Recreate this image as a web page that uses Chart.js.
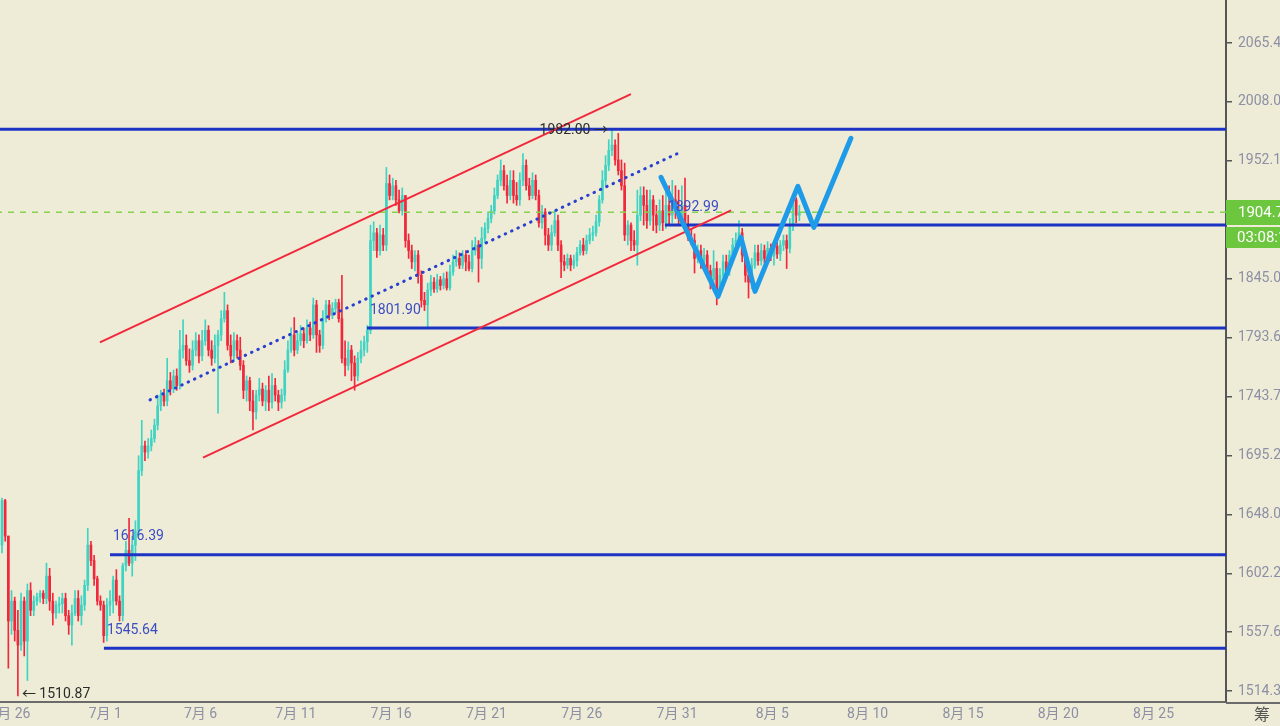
<!DOCTYPE html>
<html>
<head>
<meta charset="utf-8">
<title>K线</title>
<script src="https://cdn.jsdelivr.net/npm/chart.js@4.4.1/dist/chart.umd.min.js"></script>
<style>
  html, body { margin: 0; padding: 0; width: 1280px; height: 726px; overflow: hidden; background: #eeecd6; }
  #wrap { position: absolute; left: -40px; top: 0; width: 1320px; height: 726px; }
</style>
</head>
<body>
<div id="wrap"><canvas id="kline" width="1320" height="726"></canvas></div>
<script>
  // ---- axis ticks ----
  const xTickDays = [0, 5, 10, 15, 20, 25, 30, 35, 40, 45, 50, 55, 60];
  const xTickLabels = ["6月 26", "7月 1", "7月 6", "7月 11", "7月 16", "7月 21", "7月 26",
    "7月 31", "8月 5", "8月 10", "8月 15", "8月 20", "8月 25"];
  const yTickValues = [2065.4, 2008.0, 1952.1, 1845.0, 1793.6, 1743.7, 1695.2, 1648.0, 1602.2, 1557.6, 1514.3];
  const yTickLabels = ["2065.4", "2008.0", "1952.1", "1845.0", "1793.6", "1743.7", "1695.2", "1648.0", "1602.2", "1557.6", "1514.3"];

  // ---- 4h candles, first one on 6/25 14:00 (day 0 = 6/26) ----
  const firstCandleDay = -10 / 24;
  const candleHours = 4;

  const opens = [
    1624, 1659, 1631, 1566, 1581, 1559, 1548, 1581, 1551, 1589,
    1574, 1581, 1584, 1587, 1583, 1600, 1581, 1572, 1578, 1579,
    1583, 1570, 1563, 1572, 1583, 1570, 1578, 1593, 1624, 1612,
    1598, 1581, 1578, 1555, 1578, 1581, 1597, 1581, 1570, 1608,
    1620, 1610, 1624, 1635, 1683, 1703, 1698, 1703, 1709, 1720,
    1736, 1745, 1740, 1757, 1750, 1761, 1753, 1783, 1787, 1774,
    1770, 1783, 1791, 1778, 1791, 1800, 1783, 1776, 1787, 1796,
    1810, 1817, 1787, 1778, 1791, 1783, 1770, 1749, 1757, 1740,
    1731, 1745, 1750, 1740, 1749, 1739, 1753, 1745, 1739, 1745,
    1766, 1783, 1796, 1783, 1791, 1797, 1791, 1802, 1796, 1822,
    1796, 1787, 1810, 1822, 1813, 1819, 1824, 1810, 1776, 1770,
    1783, 1772, 1761, 1776, 1783, 1790, 1800, 1879, 1886, 1870,
    1884, 1875, 1931, 1920, 1929, 1916, 1906, 1920, 1879, 1870,
    1860, 1866, 1848, 1826, 1822, 1835, 1842, 1836, 1844, 1839,
    1845, 1837, 1851, 1860, 1863, 1857, 1866, 1860, 1854, 1870,
    1875, 1863, 1881, 1890, 1899, 1906, 1920, 1934, 1943, 1929,
    1920, 1934, 1920, 1916, 1934, 1948, 1929, 1920, 1934, 1920,
    1895, 1905, 1884, 1875, 1886, 1897, 1875, 1860, 1857, 1863,
    1857, 1861, 1868, 1875, 1870, 1879, 1884, 1886, 1896, 1916,
    1934, 1948, 1962, 1967, 1953, 1943, 1929, 1884, 1893, 1879,
    1875, 1902, 1920, 1911, 1897, 1916, 1902, 1893, 1906, 1895,
    1911, 1902, 1916, 1906, 1899, 1911, 1893, 1881, 1879, 1863,
    1870, 1860, 1866, 1852, 1844, 1854, 1835, 1848, 1860, 1852,
    1866, 1875, 1879, 1886, 1866, 1848, 1842, 1857, 1868, 1861,
    1870, 1863, 1872, 1865, 1874, 1867, 1875, 1879, 1872, 1893,
    1916, 1902
  ];
  const highs = [
    1661, 1660, 1631, 1589, 1584, 1574, 1587, 1584, 1594, 1595,
    1585, 1587, 1589, 1589, 1610, 1606, 1587, 1581, 1584, 1587,
    1587, 1574, 1578, 1589, 1589, 1585, 1597, 1637, 1627, 1616,
    1600, 1585, 1581, 1583, 1589, 1600, 1605, 1585, 1610, 1627,
    1645, 1631, 1643, 1695, 1724, 1707, 1709, 1716, 1725, 1745,
    1749, 1750, 1776, 1764, 1766, 1767, 1800, 1809, 1796, 1784,
    1791, 1798, 1796, 1800, 1809, 1804, 1791, 1796, 1800, 1817,
    1833, 1822, 1796, 1798, 1796, 1794, 1774, 1761, 1760, 1749,
    1749, 1759, 1755, 1753, 1761, 1763, 1759, 1749, 1750, 1774,
    1791, 1802, 1811, 1798, 1804, 1802, 1809, 1807, 1828, 1826,
    1800, 1817, 1826, 1826, 1824, 1827, 1827, 1848, 1791, 1790,
    1787, 1778, 1781, 1791, 1795, 1804, 1893, 1896, 1890, 1893,
    1890, 1946, 1939, 1936, 1934, 1925, 1927, 1920, 1885, 1875,
    1870, 1870, 1852, 1833, 1841, 1848, 1846, 1849, 1847, 1850,
    1851, 1857, 1866, 1870, 1868, 1870, 1870, 1866, 1879, 1882,
    1879, 1891, 1895, 1905, 1911, 1927, 1939, 1953, 1948, 1939,
    1943, 1943, 1932, 1941, 1959, 1953, 1936, 1941, 1939, 1925,
    1911, 1908, 1890, 1893, 1906, 1902, 1879, 1866, 1867, 1866,
    1866, 1873, 1879, 1881, 1884, 1890, 1892, 1902, 1920, 1943,
    1957, 1972, 1982, 1972, 1978, 1953, 1950, 1897, 1895, 1888,
    1925, 1928, 1928, 1925, 1925, 1920, 1911, 1916, 1920, 1929,
    1929, 1934, 1929, 1925, 1929, 1936, 1902, 1890, 1885, 1875,
    1875, 1872, 1870, 1857, 1870, 1860, 1854, 1866, 1866, 1870,
    1881, 1886, 1897, 1890, 1870, 1854, 1863, 1875, 1875, 1876,
    1875, 1878, 1876, 1879, 1878, 1879, 1884, 1884, 1899, 1920,
    1918, 1911
  ];
  const lows = [
    1618, 1627, 1531, 1556, 1551, 1510.87, 1544, 1540, 1522, 1570,
    1570, 1578, 1580, 1579, 1579, 1574, 1563, 1568, 1572, 1572,
    1566, 1556, 1548, 1570, 1566, 1563, 1574, 1589, 1608, 1593,
    1578, 1574, 1550, 1551, 1570, 1572, 1578, 1566, 1566, 1604,
    1608, 1600, 1612, 1631, 1679, 1691, 1693, 1699, 1706, 1716,
    1732, 1736, 1736, 1745, 1747, 1749, 1750, 1776, 1770, 1764,
    1766, 1778, 1772, 1774, 1787, 1778, 1770, 1772, 1730, 1791,
    1807, 1783, 1772, 1774, 1776, 1766, 1742, 1740, 1732, 1716,
    1725, 1740, 1736, 1732, 1732, 1734, 1740, 1732, 1734, 1740,
    1764, 1781, 1778, 1780, 1787, 1785, 1789, 1791, 1793, 1781,
    1781, 1784, 1807, 1809, 1810, 1815, 1807, 1772, 1761, 1766,
    1757, 1749, 1757, 1772, 1778, 1781, 1797, 1870, 1864, 1866,
    1870, 1870, 1916, 1916, 1911, 1904, 1902, 1873, 1863, 1854,
    1852, 1841, 1820, 1817, 1801.90, 1830, 1833, 1833, 1835, 1836,
    1835, 1835, 1848, 1856, 1854, 1854, 1852, 1852, 1851, 1866,
    1842, 1854, 1877, 1886, 1895, 1903, 1917, 1929, 1925, 1913,
    1916, 1913, 1911, 1911, 1929, 1925, 1916, 1917, 1916, 1891,
    1890, 1875, 1870, 1870, 1883, 1870, 1846, 1852, 1854, 1852,
    1854, 1856, 1866, 1866, 1867, 1876, 1879, 1883, 1892, 1913,
    1929, 1943, 1957, 1948, 1939, 1925, 1879, 1875, 1870, 1870,
    1857, 1897, 1893, 1890, 1893, 1888, 1886, 1888, 1888, 1890,
    1893, 1895, 1899, 1893, 1895, 1888, 1879, 1875, 1850, 1859,
    1854, 1852, 1848, 1836, 1839, 1822, 1830, 1844, 1848, 1848,
    1861, 1870, 1875, 1860, 1842, 1828, 1836, 1854, 1857, 1857,
    1859, 1859, 1861, 1857, 1863, 1861, 1870, 1854, 1868, 1888,
    1895, 1897
  ];
  const closes = [
    1659, 1631, 1566, 1581, 1559, 1548, 1581, 1551, 1589, 1574,
    1581, 1584, 1587, 1583, 1600, 1581, 1572, 1578, 1579, 1583,
    1570, 1563, 1572, 1583, 1570, 1578, 1593, 1624, 1612, 1598,
    1581, 1578, 1555, 1578, 1581, 1597, 1581, 1570, 1608, 1620,
    1610, 1624, 1635, 1683, 1703, 1698, 1703, 1709, 1720, 1736,
    1745, 1740, 1757, 1750, 1761, 1753, 1783, 1787, 1774, 1770,
    1783, 1791, 1778, 1791, 1800, 1783, 1776, 1787, 1796, 1810,
    1817, 1787, 1778, 1791, 1783, 1770, 1749, 1757, 1740, 1731,
    1745, 1750, 1740, 1749, 1739, 1753, 1745, 1739, 1745, 1766,
    1783, 1796, 1783, 1791, 1797, 1791, 1802, 1796, 1822, 1796,
    1787, 1810, 1822, 1813, 1819, 1824, 1810, 1776, 1770, 1783,
    1772, 1761, 1776, 1783, 1790, 1800, 1879, 1886, 1870, 1884,
    1875, 1931, 1920, 1929, 1916, 1906, 1920, 1879, 1870, 1860,
    1866, 1848, 1826, 1822, 1835, 1842, 1836, 1844, 1839, 1845,
    1837, 1851, 1860, 1863, 1857, 1866, 1860, 1854, 1870, 1875,
    1863, 1881, 1890, 1899, 1906, 1920, 1934, 1943, 1929, 1920,
    1934, 1920, 1916, 1934, 1948, 1929, 1920, 1934, 1920, 1895,
    1905, 1884, 1875, 1886, 1897, 1875, 1860, 1857, 1863, 1857,
    1861, 1868, 1875, 1870, 1879, 1884, 1886, 1896, 1916, 1934,
    1948, 1962, 1967, 1953, 1943, 1929, 1884, 1893, 1879, 1875,
    1902, 1920, 1911, 1897, 1916, 1902, 1893, 1906, 1895, 1911,
    1902, 1916, 1906, 1899, 1911, 1893, 1881, 1879, 1863, 1870,
    1860, 1866, 1852, 1844, 1854, 1835, 1848, 1860, 1852, 1866,
    1875, 1879, 1886, 1866, 1848, 1842, 1857, 1868, 1861, 1870,
    1863, 1872, 1865, 1874, 1867, 1875, 1879, 1872, 1893, 1916,
    1902, 1904.7
  ];

  // ---- drawn levels / trend lines (day, price) ----
  const levelPrices = [1982.00, 1892.99, 1801.90, 1616.39, 1545.64];
  const levelFromDays = [-3, 34.36, 18.73, 5.25, 4.93];
  const levelTexts = [null, "1892.99", "1801.90", "1616.39", "1545.64"];

  const channelUpperDays = [4.72, 32.58];
  const channelUpperPrices = [1789.5, 2015.5];
  const channelLowerDays = [10.13, 37.83];
  const channelLowerPrices = [1693.5, 1906.4];
  const midlineDays = [7.35, 35.20];
  const midlinePrices = [1741.0, 1960.5];

  const forecastDays = [34.16, 37.15, 38.35, 39.09, 41.34, 42.18, 44.12];
  const forecastPrices = [1936.8, 1829.4, 1881.9, 1833.8, 1928.5, 1890.9, 1973.4];

  const lastPrice = 1904.7;
  const countdown = "03:08:1";

  // visible window
  const dayMin = -2.62, dayMax = 63.8;
  const priceMin = 1506.4, priceMax = 2108.5;

  const FONT = 'Roboto, "Noto Sans CJK SC", sans-serif';
  const UP = "#3fd3c3";
  const DOWN = "#f1283c";
  const BLUE = "#1c33c4";

  const candleX = opens.map((_, i) => firstCandleDay + i * candleHours / 24);
  const candleColor = (i) => (closes[i] >= opens[i] ? UP : DOWN);

  function pts(days, prices) {
    return days.map((d, i) => ({ x: d, y: prices[i] }));
  }
  function lineSet(data, color, width, dash, order) {
    return {
      type: "line",
      data: data,
      borderColor: color,
      borderWidth: width,
      borderDash: dash || [],
      pointRadius: 0,
      fill: false,
      tension: 0,
      order: order,
    };
  }

  const datasets = [
    {
      type: "bar",
      data: candleX.map((x, i) => ({ x: x, y: [lows[i], highs[i]] })),
      backgroundColor: (c) => candleColor(c.dataIndex),
      barThickness: 1,
      grouped: false,
      order: 20,
    },
    {
      type: "bar",
      data: candleX.map((x, i) => ({ x: x, y: [opens[i], closes[i]] })),
      backgroundColor: (c) => candleColor(c.dataIndex),
      barThickness: 2,
      minBarLength: 1,
      grouped: false,
      order: 19,
    },
    lineSet([{ x: dayMin, y: lastPrice }, { x: dayMax, y: lastPrice }], "#84d24e", 1.5, [6, 6], 8),
  ];

  levelPrices.forEach((p, i) => {
    datasets.push(lineSet([{ x: levelFromDays[i], y: p }, { x: dayMax, y: p }], BLUE, 3, null, 5));
  });
  datasets.push(lineSet(pts(channelUpperDays, channelUpperPrices), DOWN, 2, null, 4));
  datasets.push(lineSet(pts(channelLowerDays, channelLowerPrices), DOWN, 2, null, 4));
  const mid = lineSet(pts(midlineDays, midlinePrices), "#2a3fd0", 3, [0.5, 6.5], 4);
  mid.borderCapStyle = "round";
  datasets.push(mid);
  const forecast = lineSet(pts(forecastDays, forecastPrices), "#1e9be8", 5, null, 0);
  forecast.borderCapStyle = "round";
  forecast.borderJoinStyle = "round";
  datasets.push(forecast);

  // price notes, current price tag, countdown
  const notes = {
    id: "notes",
    afterDatasetsDraw(chart) {
      const { ctx } = chart;
      const x = chart.scales.x, y = chart.scales.y;
      ctx.save();
      ctx.font = "14px " + FONT;
      ctx.textBaseline = "middle";
      ctx.textAlign = "left";
      ctx.fillStyle = "#3b4cc4";
      levelPrices.forEach((p, i) => {
        if (!levelTexts[i]) return;
        ctx.fillText(levelTexts[i], x.getPixelForValue(levelFromDays[i]) + 3, y.getPixelForValue(p) - 18);
      });
      const hi = highs.indexOf(Math.max(...highs));
      const lo = lows.indexOf(Math.min(...lows));
      ctx.fillStyle = "#2b2b2b";
      ctx.textAlign = "right";
      ctx.fillText(highs[hi].toFixed(2) + " →", x.getPixelForValue(candleX[hi]) - 4, y.getPixelForValue(highs[hi]) + 1);
      ctx.textAlign = "left";
      ctx.fillText("← " + lows[lo].toFixed(2), x.getPixelForValue(candleX[lo]) + 4, y.getPixelForValue(lows[lo]) - 1);
      ctx.restore();
    },
    afterDraw(chart) {
      const { ctx, chartArea, width } = chart;
      const cy = Math.round(chart.scales.y.getPixelForValue(lastPrice));
      ctx.save();
      ctx.fillStyle = "#6cc73e";
      ctx.fillRect(chartArea.right, cy - 12, width - chartArea.right, 25);
      ctx.fillRect(chartArea.right, cy + 15, width - chartArea.right, 21);
      ctx.fillStyle = "#ffffff";
      ctx.font = "15px " + FONT;
      ctx.textBaseline = "middle";
      ctx.textAlign = "left";
      ctx.fillText(lastPrice.toFixed(1), chartArea.right + 12, cy + 1);
      ctx.fillText(countdown, chartArea.right + 11, cy + 26);
      ctx.strokeStyle = "#6b6b6b";
      ctx.lineWidth = 2;
      ctx.beginPath();
      ctx.moveTo(chartArea.right, chartArea.bottom + 1);
      ctx.lineTo(width, chartArea.bottom + 1);
      ctx.stroke();
      ctx.fillStyle = "#555555";
      ctx.font = '16px "Noto Sans CJK SC"';
      ctx.textAlign = "center";
      ctx.fillText("筹", width - 18, chartArea.bottom + 12);
      ctx.restore();
    },
  };

  new Chart(document.getElementById("kline"), {
    type: "bar",
    data: { datasets: datasets },
    options: {
      responsive: false,
      animation: false,
      layout: { padding: 0 },
      plugins: { legend: { display: false }, tooltip: { enabled: false } },
      scales: {
        x: {
          type: "linear",
          min: dayMin,
          max: dayMax,
          offset: false,
          grid: { drawOnChartArea: false, drawTicks: false, offset: false },
          border: { color: "#6b6b6b", width: 2 },
          ticks: {
            autoSkip: false,
            maxRotation: 0,
            padding: 4,
            color: "#8c8fa5",
            font: { family: FONT, size: 14 },
            callback: (v) => xTickLabels[xTickDays.indexOf(v)],
          },
          afterBuildTicks: (s) => { s.ticks = xTickDays.map((v) => ({ value: v })); },
          afterFit: (s) => { s.height = 24; s.paddingLeft = 0; s.paddingRight = 0; },
        },
        y: {
          type: "logarithmic",
          position: "right",
          min: priceMin,
          max: priceMax,
          grid: { drawOnChartArea: false, drawTicks: true, tickLength: 6, color: "#555555", lineWidth: 1.5 },
          border: { color: "#555555", width: 2 },
          ticks: {
            autoSkip: false,
            padding: 6,
            color: "#8c8fa5",
            font: { family: FONT, size: 14 },
            callback: (v) => yTickLabels[yTickValues.indexOf(v)],
          },
          afterBuildTicks: (s) => { s.ticks = yTickValues.map((v) => ({ value: v })); },
          afterFit: (s) => { s.width = 54; s.paddingTop = 0; s.paddingBottom = 0; },
        },
      },
    },
    plugins: [notes],
  });
</script>
</body>
</html>
